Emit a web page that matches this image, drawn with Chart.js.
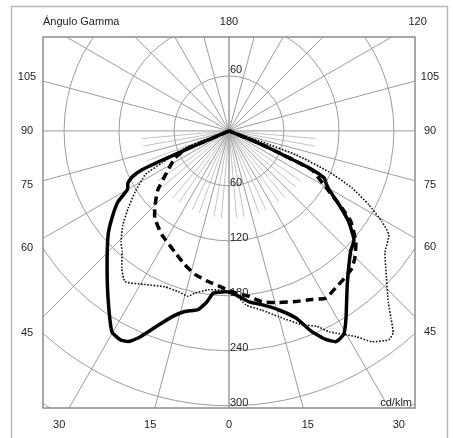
<!DOCTYPE html>
<html>
<head>
<meta charset="utf-8">
<script src="https://cdn.jsdelivr.net/npm/chart.js@4.4.0/dist/chart.umd.min.js"></script>
<style>
  body { margin: 0; background: #fff; }
  canvas { display: block; }
</style>
</head>
<body>
<canvas id="polar" width="453" height="438"></canvas>
<script>
// gamma angle in degrees (negative = left half plane), intensity in cd/klm
const solidGamma = [-67, -66.5, -66.5, -66.4, -65.9, -64.6, -62.8, -60, -57.4, -53.4, -49.3, -41.7, -35.3, -30.2, -27.5, -25.6, -23.7, -20.6, -17, -13.7, -9.8, -7.3, -5.6, -2.5, 0,
  3.4, 6.7, 10.7, 15.6, 19.7, 22.4, 24.9, 26.9, 29.4, 32, 37.5, 45.2, 48.9, 52.8, 56.1, 59.5, 61.8, 63.7, 65.2, 65.8, 67, 68, 69];
const solidI = [0, 28, 52, 80, 104, 117, 124, 128, 144, 159, 174, 200, 228, 254, 257, 255, 247, 229, 212, 203, 198, 188, 178, 176, 176,
  181, 188, 193, 203, 217, 237, 251, 258, 255, 241, 212, 187, 181, 164, 145, 127, 120, 116, 96, 72, 47, 23, 0];

const dashGamma = [-67, -66.5, -67, -63.4, -56.5, -50.3, -45, -40.4, -32.8, -24, -18.2, -13.3, -7.9, -2.6, 0,
  2.5, 6.9, 10.9, 16.2, 21.4, 26.2, 30.1, 34.3, 38.7, 41.9, 44.8, 48.8, 53.3, 55.7, 58.1, 60.4, 64.8, 65.8, 67, 68, 69];
const dashI = [0, 28, 52, 66, 81, 101, 114, 125, 135, 145, 154, 161, 166, 171, 174.5,
  177, 182, 190, 195, 200, 205, 211, 207, 204, 201, 195, 184, 166, 149, 132, 119, 100, 72, 47, 23, 0];

const dotGamma = [-71, -70, -69.1, -66.7, -64.5, -62.4, -57, -52.7, -48.4, -44.2, -41.5, -38, -34.6, -28.6, -22.3, -17.6, -13.9, -11.9, -7.5, -2.5, 0,
  1.4, 5.6, 10.4, 15, 20.6, 24.2, 26.5, 31.7, 34.1, 37.4, 39.1, 40.9, 42.8, 48.9, 52, 57, 59.3, 62.1, 65.1, 67.7, 70.3, 71.6, 73];
const dotI = [0, 25, 49, 61, 81, 103, 122, 138, 155, 169, 176, 190, 200, 191, 184, 184, 186, 181, 175, 174, 175.5,
  176, 191, 199, 210, 226, 234, 245, 264, 278, 287, 284, 270, 256, 227, 216, 208, 194, 173, 148, 118, 78, 38, 0];

// grid
const ringValues = [60, 120, 180, 240, 300, 360];
const ringLabelsBelow = [60, 120, 180, 240, 300];
const ringLabelsAbove = [60];
const majorSpokes = [0, 15, 30, 45, 60, 75, 90, 105, 120, 135, 150, 165, 180];
const minorSpokes = [5, 10, 20, 25, 35, 40, 50, 55, 65, 70, 80, 85];
const minorSpokeLen = 95;
const gammaTicksLeft = [105, 90, 75, 60, 45, 30, 15];
const gammaTicksRight = [0, 15, 30, 45, 60, 75, 90, 105, 120, 180];

const rad = d => d * Math.PI / 180;
const toXY = (gs, is) => gs.map((g, i) => ({ x: is[i] * Math.sin(rad(g)), y: -is[i] * Math.cos(rad(g)) }));

const FONT = '11px "Liberation Sans", Arial, sans-serif';

const gridPlugin = {
  id: 'polarGrid',
  beforeDraw(chart) {
    const { ctx, width, height } = chart;
    ctx.save();
    ctx.fillStyle = '#fff';
    ctx.fillRect(0, 0, width, height);
    ctx.strokeStyle = '#b8b8b8';
    ctx.lineWidth = 1.5;
    ctx.strokeRect(11.5, 6.5, 436, 445);
    ctx.restore();
  },
  beforeDatasetsDraw(chart) {
    const { ctx, chartArea: a, scales: { x, y } } = chart;
    const cx = x.getPixelForValue(0), cy = y.getPixelForValue(0);
    const k = x.getPixelForValue(1) - cx;
    ctx.save();
    ctx.beginPath();
    ctx.rect(a.left, a.top, a.right - a.left, a.bottom - a.top);
    ctx.clip();
    ctx.lineWidth = 1;
    const spoke = (g, len) => {
      [-1, 1].forEach(s => {
        ctx.beginPath();
        ctx.moveTo(cx, cy);
        ctx.lineTo(cx + s * Math.sin(rad(g)) * len, cy + Math.cos(rad(g)) * len);
        ctx.stroke();
      });
    };
    ctx.strokeStyle = '#c4c4c4';
    minorSpokes.forEach(g => spoke(g, minorSpokeLen * k));
    ctx.strokeStyle = '#9c9c9c';
    ringValues.forEach(r => {
      ctx.beginPath();
      ctx.arc(cx, cy, r * k, 0, Math.PI * 2);
      ctx.stroke();
    });
    majorSpokes.forEach(g => spoke(g, 1000));
    ctx.restore();

    ctx.save();
    ctx.strokeStyle = '#8c8c8c';
    ctx.lineWidth = 1.5;
    ctx.strokeRect(a.left, a.top, a.right - a.left, a.bottom - a.top);

    ctx.fillStyle = '#222';
    ctx.font = FONT;
    // ring values along the vertical axis
    ctx.textAlign = 'left';
    ctx.textBaseline = 'alphabetic';
    ringLabelsBelow.forEach(r => ctx.fillText(String(r), cx + 1, cy + r * k));
    ringLabelsAbove.forEach(r => ctx.fillText(String(r), cx + 1, cy - r * k - 3));

    // gamma labels on a frame around the plot box
    const L = a.left - 16, R = a.right + 15, T = a.top - 15, B = a.bottom + 17;
    const place = (g, s) => {
      const ux = s * Math.sin(rad(g)), uy = Math.cos(rad(g));
      let t = Infinity;
      if (ux < -1e-9) t = Math.min(t, (L - cx) / ux);
      if (ux > 1e-9) t = Math.min(t, (R - cx) / ux);
      if (uy < -1e-9) t = Math.min(t, (T - cy) / uy);
      if (uy > 1e-9) t = Math.min(t, (B - cy) / uy);
      return [cx + ux * t, cy + uy * t];
    };
    ctx.textAlign = 'center';
    ctx.textBaseline = 'middle';
    gammaTicksLeft.forEach(g => { const [px, py] = place(g, -1); ctx.fillText(String(g), px, py); });
    gammaTicksRight.forEach(g => { const [px, py] = place(g, 1); ctx.fillText(String(g), px, py); });

    ctx.textAlign = 'left';
    ctx.fillText('Ángulo Gamma', a.left, T);
    ctx.textAlign = 'right';
    ctx.textBaseline = 'alphabetic';
    ctx.fillText('cd/klm', a.right - 3, a.bottom - 2);
    ctx.restore();
  }
};

new Chart(document.getElementById('polar'), {
  type: 'scatter',
  data: {
    datasets: [
      { data: toXY(solidGamma, solidI), borderColor: '#000', borderWidth: 3.5 },
      { data: toXY(dashGamma, dashI), borderColor: '#000', borderWidth: 3.5, borderDash: [8, 5] },
      { data: toXY(dotGamma, dotI), borderColor: '#111', borderWidth: 1.6, borderDash: [1.6, 1.6] }
    ].map(d => Object.assign(d, { showLine: true, pointRadius: 0, tension: 0.15, fill: false }))
  },
  options: {
    responsive: false,
    animation: false,
    layout: { padding: { left: 43, top: 37, right: 38, bottom: 30 } },
    plugins: { legend: { display: false }, tooltip: { enabled: false } },
    scales: {
      x: { type: 'linear', min: -203, max: 203, display: false },
      y: { type: 'linear', min: -302.5, max: 102.5, display: false }
    }
  },
  plugins: [gridPlugin]
});
</script>
</body>
</html>
